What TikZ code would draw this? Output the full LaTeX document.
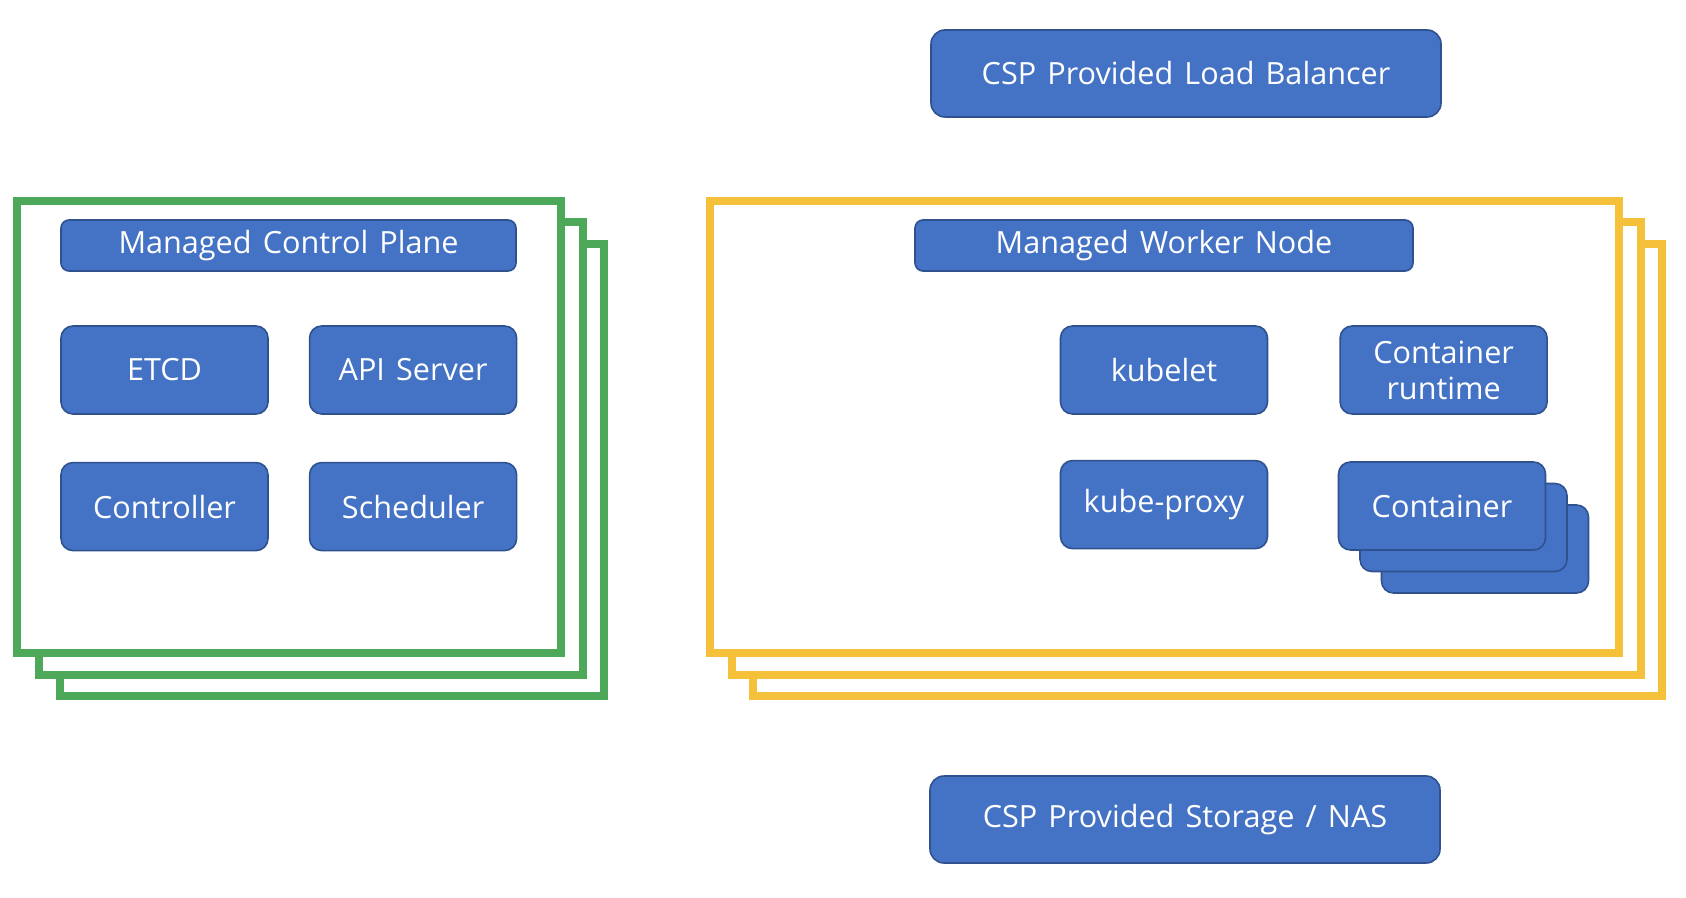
\documentclass[tikz,border=0pt]{standalone}
\usepackage{fontspec}
\setmainfont[WordSpace=1.4]{Open Sans}
\usetikzlibrary{positioning}
\definecolor{boxfill}{HTML}{4472C4}
\definecolor{boxline}{HTML}{2F528F}
\definecolor{planegreen}{HTML}{4EA85A}
\definecolor{workeryellow}{HTML}{F5C13A}

\begin{document}
\begin{tikzpicture}[
  x=0.5pt,y=-0.5pt,
  node distance=23.5pt and 20pt,
  every node/.style={font=\fontsize{15.3}{18}\selectfont,align=center,text=white},
  box/.style={rounded corners=6pt,draw=boxline,line width=0.8pt,fill=boxfill,minimum width=103.5pt,minimum height=44pt,inner sep=0pt},
  titlebar/.style={box,rounded corners=4pt,minimum height=25.5pt},
  cspbox/.style={box,rounded corners=7pt,minimum width=255pt,minimum height=43.5pt},
  planeframe/.style={draw=planegreen,line width=4pt,fill=white},
  workerframe/.style={draw=workeryellow,line width=4pt,fill=white}
]
\fill[white] (0,0) rectangle (1686,898);
\useasboundingbox (0,0) rectangle (1686,898);

% stacked frames, back to front
\foreach \d in {43,21.5,0} {
  \draw[planeframe,shift={(\d,\d)}] (17,201) rectangle (561,653);
  \draw[workerframe,shift={(\d,\d)}] (710,201) rectangle (1619,653);
}

\node[cspbox] (lb) at (1186,73.5) {CSP Provided Load Balancer};
\node[cspbox] (storage) at (1185,819.5) {CSP Provided Storage / NAS};

% control plane
\node[titlebar,minimum width=227.5pt] (mcp) at (288.5,245.5) {Managed Control Plane};
\node[box] (etcd) at (164.5,370) {ETCD};
\node[box,right=of etcd] (api) {API Server};
\node[box,below=of etcd] (ctrl) {Controller};
\node[box,below=of api] (sched) {Scheduler};

% worker node
\node[titlebar,minimum width=249pt] (mwn) at (1164,245.5) {Managed Worker Node};
\node[box] (kubelet) at (1164,370) {kubelet};
\node[box,right=35.5pt of kubelet] (runtime) {Container\\runtime};
\node[box,below=22.5pt of kubelet] (proxy) {kube-proxy};
\node[box] (cont3) at (1485,549) {};
\node[box] (cont2) at (1463.5,527.5) {};
\node[box] (cont) at (1442,506) {Container};
\end{tikzpicture}
\end{document}
